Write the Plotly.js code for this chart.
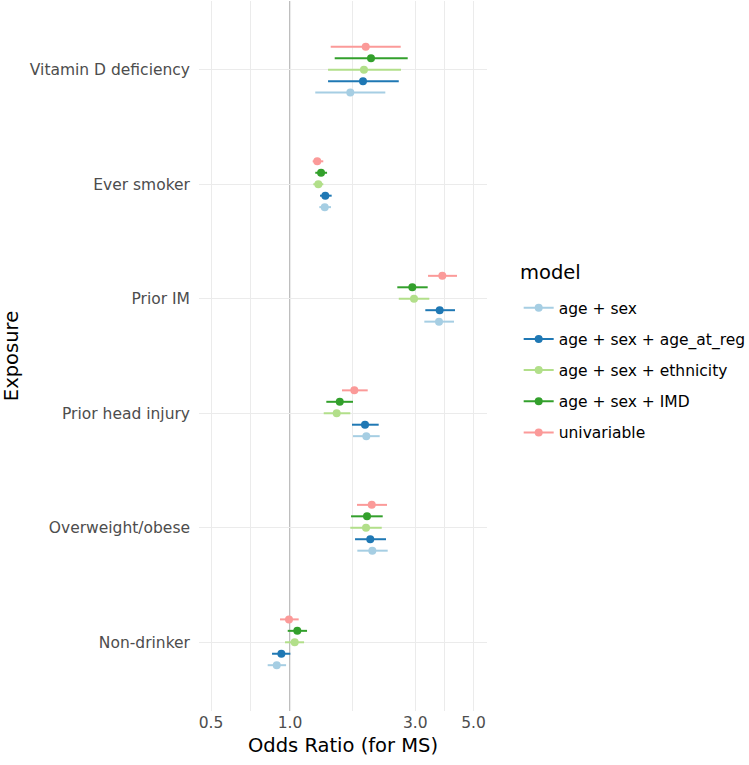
<!DOCTYPE html>
<html>
<head>
<meta charset="utf-8">
<script src="https://cdn.plot.ly/plotly-3.0.1.min.js"></script>
<style>
  html, body { margin: 0; padding: 0; background: #fff; }
  #chart { width: 749px; height: 765px; }
</style>
</head>
<body>
<div id="chart"></div>
<script>
// exposures, bottom to top
var exposures = ["Non-drinker", "Overweight/obese", "Prior head injury", "Prior IM", "Ever smoker", "Vitamin D deficiency"];

var models = ["age + sex", "age + sex + age_at_reg", "age + sex + ethnicity", "age + sex + IMD", "univariable"];
var modelColors = ["#A6CEE3", "#1F78B4", "#B2DF8A", "#33A02C", "#FB9A99"];
var dodge = [-0.2, -0.1, 0, 0.1, 0.2];

// odds ratios and 95% CI, per model, same order as exposures
var orAgeSex   = [0.890, 2.059, 1.953, 3.695, 1.356, 1.697];
var loAgeSex   = [0.822, 1.805, 1.738, 3.249, 1.293, 1.248];
var hiAgeSex   = [0.966, 2.356, 2.196, 4.214, 1.433, 2.307];

var orAgeReg   = [0.927, 2.022, 1.931, 3.718, 1.363, 1.897];
var loAgeReg   = [0.854, 1.769, 1.722, 3.277, 1.301, 1.396];
var hiAgeReg   = [1.003, 2.321, 2.177, 4.252, 1.441, 2.596];

var orEthnic   = [1.042, 1.948, 1.506, 2.968, 1.282, 1.913];
var loEthnic   = [0.957, 1.697, 1.344, 2.596, 1.227, 1.396];
var hiEthnic   = [1.131, 2.236, 1.697, 3.394, 1.339, 2.648];

var orIMD      = [1.066, 1.965, 1.547, 2.924, 1.313, 2.035];
var loIMD      = [0.980, 1.708, 1.375, 2.563, 1.248, 1.480];
var hiIMD      = [1.161, 2.255, 1.738, 3.346, 1.384, 2.808];

var orUni      = [0.991, 2.048, 1.758, 3.804, 1.270, 1.943];
var loUni      = [0.916, 1.800, 1.578, 3.356, 1.220, 1.429];
var hiUni      = [1.079, 2.342, 1.977, 4.327, 1.339, 2.641];

var allOr = [orAgeSex, orAgeReg, orEthnic, orIMD, orUni];
var allLo = [loAgeSex, loAgeReg, loEthnic, loIMD, loUni];
var allHi = [hiAgeSex, hiAgeReg, hiEthnic, hiIMD, hiUni];

var xTicks = [0.5, 1.0, 3.0, 5.0];
var xTickText = ["0.5", "1.0", "3.0", "5.0"];
var xMinor = [0.7071, 1.7321, 3.873];

var data = [];
for (var m = 0; m < models.length; m++) {
    var xs = [], ys = [], ep = [], em = [];
    for (var i = 0; i < exposures.length; i++) {
        // null after each point so the line part never joins points
        xs.push(allOr[m][i], null);
        ys.push(i + 1 + dodge[m], null);
        ep.push(allHi[m][i] - allOr[m][i], 0);
        em.push(allOr[m][i] - allLo[m][i], 0);
    }
    data.push({
        type: 'scatter',
        mode: 'lines+markers',
        name: models[m],
        legendgroup: models[m],
        x: xs,
        y: ys,
        connectgaps: false,
        line: { color: modelColors[m], width: 2 },
        marker: { color: modelColors[m], size: 8 },
        error_x: {
            type: 'data', symmetric: false,
            array: ep, arrayminus: em,
            color: modelColors[m], thickness: 2, width: 0
        },
        hoverinfo: 'x+name'
    });
}

var layout = {
    width: 749,
    height: 765,
    margin: { l: 199, r: 262, t: 1, b: 54, autoexpand: false },
    paper_bgcolor: '#fff',
    plot_bgcolor: '#fff',
    font: { family: 'DejaVu Sans', color: '#000' },
    xaxis: {
        type: 'log',
        range: [Math.log10(0.45), Math.log10(5.63)],
        tickvals: xTicks,
        ticktext: xTickText,
        tickfont: { size: 15.5, color: '#4D4D4D' },
        showgrid: true,
        gridcolor: '#EBEBEB',
        gridwidth: 1.3,
        minor: { tickvals: xMinor, showgrid: true, gridcolor: '#EBEBEB', gridwidth: 0.9 },
        zeroline: false,
        showline: false,
        ticks: '',
        title: { text: 'Odds Ratio (for MS)', font: { size: 19.5 }, standoff: 7 }
    },
    yaxis: {
        range: [0.4, 6.6],
        tickvals: [1, 2, 3, 4, 5, 6],
        ticktext: exposures,
        tickfont: { size: 15.5, color: '#4D4D4D' },
        showgrid: true,
        gridcolor: '#EBEBEB',
        gridwidth: 1.3,
        zeroline: false,
        showline: false,
        ticks: '',
        ticklabelstandoff: 8,
        title: { text: 'Exposure', font: { size: 19.5 }, standoff: 6 }
    },
    shapes: [{
        type: 'line', xref: 'x', yref: 'paper',
        x0: 1, x1: 1, y0: 0, y1: 1,
        line: { color: '#BDBDBD', width: 2 },
        layer: 'below'
    }],
    // legend title as an annotation so its gap to the entries matches
    annotations: [{
        text: 'model', xref: 'paper', yref: 'paper',
        x: 1.1076, y: 0.617, xanchor: 'left', yanchor: 'middle',
        showarrow: false, font: { size: 19.5, color: '#000' }
    }],
    legend: {
        x: 1.11, xanchor: 'left',
        y: 0.48, yanchor: 'middle',
        font: { size: 15.5, color: '#000' },
        tracegroupgap: 8,
        bgcolor: 'rgba(0,0,0,0)'
    },
    showlegend: true
};

Plotly.newPlot('chart', data, layout, { displayModeBar: false });
</script>
</body>
</html>
